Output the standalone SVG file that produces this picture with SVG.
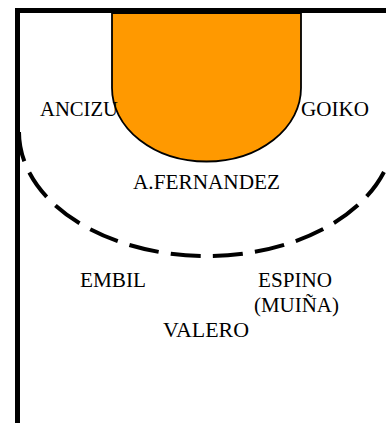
<svg xmlns="http://www.w3.org/2000/svg" width="386" height="423" viewBox="0 0 386 423">
<style>
text{font-family:"Liberation Serif","Times New Roman",serif;font-size:21px;fill:#000}
.court{fill:none;stroke:#000;stroke-width:5}
</style>
<rect width="386" height="423" fill="#fff"/>
<g id="key"><path d="M112 13V88A94.500 73.500 0 0 0 301 88V13Z" fill="#f90" stroke="#000" stroke-width="1.800"/></g>
<g id="arc"><path d="M19 132A187.500 124 0 0 0 394 132" fill="none" stroke="#000" stroke-width="4" stroke-dasharray="30 12.250"/></g>
<g id="frame"><path class="court" d="M386 10.500H17.500V423"/></g>
<g id="labels">
<text id="ancizu" x="40" y="116" textLength="78" lengthAdjust="spacingAndGlyphs">ANCIZU</text>
<text id="goiko" x="301" y="116" textLength="68" lengthAdjust="spacingAndGlyphs">GOIKO</text>
<text id="afernandez" x="133" y="189" textLength="147" lengthAdjust="spacingAndGlyphs">A.FERNANDEZ</text>
<text id="embil" x="80" y="287" textLength="66" lengthAdjust="spacingAndGlyphs">EMBIL</text>
<text id="valero" x="163" y="337" textLength="86" lengthAdjust="spacingAndGlyphs">VALERO</text>
<text id="espino" x="258" y="287" textLength="74" lengthAdjust="spacingAndGlyphs">ESPINO</text>
<text id="muina" x="254" y="312" textLength="85" lengthAdjust="spacingAndGlyphs">(MUIÑA)</text>
</g>
</svg>
